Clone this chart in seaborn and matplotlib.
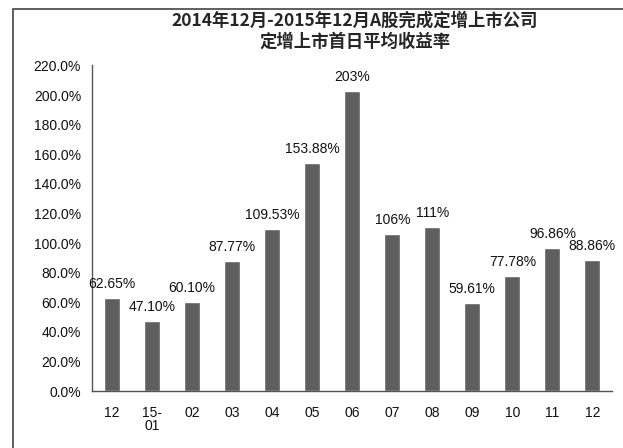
import matplotlib
matplotlib.use("Agg")
import matplotlib.pyplot as plt
import pandas as pd
import seaborn as sns
from matplotlib.patches import Rectangle
from matplotlib.ticker import FuncFormatter

months = ["2014-12", "2015-01", "2015-02", "2015-03", "2015-04", "2015-05", "2015-06",
          "2015-07", "2015-08", "2015-09", "2015-10", "2015-11", "2015-12"]
tick_labels = ["12", "15-\n01", "02", "03", "04", "05", "06", "07", "08", "09", "10", "11", "12"]
returns = [62.65, 47.10, 60.10, 87.77, 109.53, 153.88, 203.0, 106.0, 111.0, 59.61, 77.78, 96.86, 88.86]
value_labels = ["62.65%", "47.10%", "60.10%", "87.77%", "109.53%", "153.88%", "203%",
                "106%", "111%", "59.61%", "77.78%", "96.86%", "88.86%"]

df = pd.DataFrame({"month": months, "ret": returns})

sns.set_style("white")
plt.rcParams["font.family"] = ["Liberation Sans", "Noto Sans CJK SC", "DejaVu Sans"]

fig = plt.figure(figsize=(6.23, 4.48), dpi=100)
ax = fig.add_axes([0.148, 0.127, 0.835, 0.727])

sns.barplot(data=df, x="month", y="ret", color="#5f5f5f", width=0.4,
            saturation=1, ax=ax)

ax.set_ylim(0, 220)
ax.set_xlim(-0.5, len(months) - 0.5)
ax.set_yticks(range(0, 221, 20))
ax.yaxis.set_major_formatter(FuncFormatter(lambda v, _: f"{v:.1f}%"))
ax.set_xticks(range(len(months)))
ax.set_xticklabels(tick_labels, va="top", linespacing=0.9)
ax.tick_params(axis="both", labelsize=10, length=0, colors="#111111")
ax.tick_params(axis="x", pad=11)
ax.tick_params(axis="y", pad=8)
ax.set_xlabel("")
ax.set_ylabel("")
for side in ["top", "right"]:
    ax.spines[side].set_visible(False)
for side in ["left", "bottom"]:
    ax.spines[side].set_color("#555555")
    ax.spines[side].set_linewidth(1.0)

# value labels above the bars
for i, (v, lab) in enumerate(zip(returns, value_labels)):
    ax.annotate(lab, (i, v), xytext=(0, 5), textcoords="offset points",
                ha="center", va="bottom", fontsize=10, color="#111111")

fig.text(0.57, 0.975, "2014年12月-2015年12月A股完成定增上市公司\n定增上市首日平均收益率",
         ha="center", va="top", fontsize=12.5, fontweight="bold",
         family=["Noto Sans CJK SC", "DejaVu Sans"], linespacing=1.25)

# outer frame like the original screenshot
fig.patches.append(Rectangle((0.021, -0.01), 1.0, 0.99, transform=fig.transFigure,
                             fill=False, edgecolor="#444444", linewidth=1.2))

fig.savefig("out.png", dpi=100)
